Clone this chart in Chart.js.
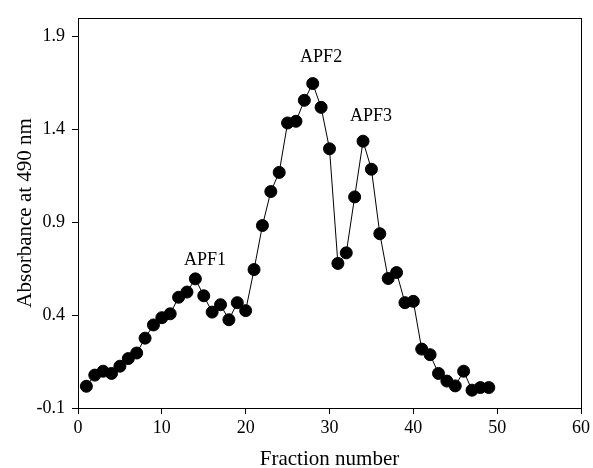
<!DOCTYPE html>
<html>
<head>
<meta charset="utf-8">
<script src="https://cdn.jsdelivr.net/npm/chart.js@4.4.0/dist/chart.umd.min.js"></script>
<style>
  body { margin: 0; background: #fff; }
  canvas { display: block; }
</style>
</head>
<body>
<canvas id="fractions" width="593" height="468"></canvas>
<script>
const fractions = [1,2,3,4,5,6,7,8,9,10,11,12,13,14,15,16,17,18,19,20,21,22,23,24,25,
  26,27,28,29,30,31,32,33,34,35,36,37,38,39,40,41,42,43,44,45,46,47,48,49];
const absorbance = [0.017,0.077,0.098,0.086,0.125,0.166,0.196,0.276,0.347,0.386,0.407,0.496,0.524,0.595,0.504,
  0.416,0.456,0.375,0.467,0.424,0.645,0.882,1.065,1.168,1.434,1.443,1.556,1.646,1.518,1.295,
  0.678,0.735,1.036,1.336,1.185,0.838,0.597,0.629,0.467,0.474,0.217,0.187,0.086,0.045,0.019,
  0.098,-0.004,0.010,0.010];
const yTicks = [-0.1, 0.4, 0.9, 1.4, 1.9];
const peakNames = ["APF1", "APF2", "APF3"];
const peakX = [15.15, 29.0, 34.96];
const peakY = [0.669, 1.763, 1.442];

const serif = "'Liberation Serif', 'Times New Roman', serif";

const frame = {
  id: 'frame',
  afterDraw(chart) {
    const {ctx, chartArea: a, scales} = chart;
    ctx.save();
    ctx.strokeStyle = '#000';
    ctx.lineWidth = 1;
    ctx.strokeRect(Math.round(a.left) + 0.5, Math.round(a.top) + 0.5,
      Math.round(a.right - a.left), Math.round(a.bottom - a.top));
    ctx.fillStyle = '#000';
    ctx.font = '18px ' + serif;
    ctx.textAlign = 'center';
    ctx.textBaseline = 'alphabetic';
    peakNames.forEach((name, i) => {
      ctx.fillText(name, scales.x.getPixelForValue(peakX[i]), scales.y.getPixelForValue(peakY[i]));
    });
    ctx.restore();
  }
};

const data = {
  datasets: [{
    data: fractions.map((f, i) => ({x: f, y: absorbance[i]})),
    showLine: true,
    borderColor: '#000',
    borderWidth: 1,
    backgroundColor: '#000',
    pointRadius: 6,
    pointBorderWidth: 1,
    pointBorderColor: '#000',
    pointBackgroundColor: '#000'
  }]
};

const config = {
  type: 'scatter',
  data: data,
  options: {
    responsive: false,
    animation: false,
    layout: {
      padding: {left: 0, top: 13, right: 9, bottom: 0}
    },
    scales: {
      x: {
        type: 'linear',
        min: 0,
        max: 60,
        border: { display: false },
        grid: { drawOnChartArea: false, drawTicks: true, tickLength: 6, color: '#000' },
        ticks: {
          stepSize: 10,
          padding: 3,
          color: '#000',
          font: { family: serif, size: 18 }
        },
        title: {
          display: true,
          text: "Fraction number",
          color: '#000',
          font: { family: serif, size: 21, lineHeight: 0.8 },
          padding: 0
        },
        afterFit(scale) { scale.height = 60; }
      },
      y: {
        min: -0.1,
        max: 2.0,
        border: { display: false },
        grid: { drawOnChartArea: false, drawTicks: true, tickLength: 6, color: '#000' },
        afterBuildTicks(scale) {
          scale.ticks = yTicks.map(v => ({value: v}));
        },
        ticks: {
          padding: 7,
          color: '#000',
          font: { family: serif, size: 18 },
          callback: v => v.toFixed(1)
        },
        title: {
          display: true,
          text: "Absorbance at 490 nm",
          color: '#000',
          font: { family: serif, size: 21, lineHeight: 1 },
          padding: { top: 14.5, bottom: 0 }
        },
        afterFit(scale) { scale.width = 78; }
      }
    },
    plugins: {
      legend: { display: false },
      tooltip: { enabled: false }
    }
  },
  plugins: [frame]
};

var fractionChart = new Chart(
  document.getElementById('fractions'),
  config
);
</script>
</body>
</html>
